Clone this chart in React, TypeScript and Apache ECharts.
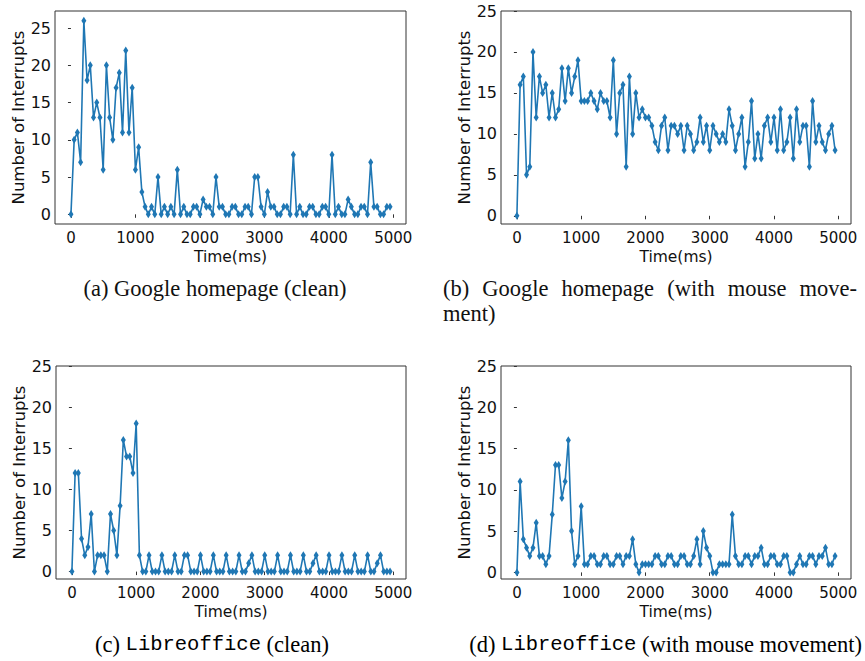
import React, { useEffect, useRef } from "react";
import * as echarts from "echarts";

// Interrupt counts sampled every 50 ms over five seconds.
const SAMPLE_STEP_MS = 50;

const GOOGLE_CLEAN = [
  0, 10, 11, 7, 26, 18, 20, 13, 15, 13, 6, 20, 13, 10, 17, 19, 11, 22, 11, 17,
  6, 9, 3, 1, 0, 1, 0, 5, 0, 1, 0, 1, 0, 6, 0, 1, 0, 0, 1, 1,
  0, 2, 1, 1, 0, 5, 1, 1, 0, 0, 1, 1, 0, 0, 1, 1, 0, 5, 5, 1,
  0, 3, 1, 1, 0, 0, 1, 1, 0, 8, 0, 1, 0, 0, 1, 1, 0, 0, 1, 1,
  0, 8, 0, 1, 0, 0, 2, 1, 0, 0, 1, 1, 0, 7, 1, 1, 0, 0, 1, 1,
];

const GOOGLE_MOUSE = [
  0, 16, 17, 5, 6, 20, 12, 17, 15, 16, 12, 15, 12, 13, 18, 14, 18, 15, 17, 19,
  14, 14, 14, 15, 14, 13, 15, 14, 14, 12, 19, 10, 15, 16, 6, 17, 10, 15, 12, 13,
  12, 12, 11, 9, 8, 11, 12, 8, 11, 11, 10, 11, 8, 11, 10, 8, 9, 12, 9, 11,
  8, 11, 10, 9, 10, 9, 13, 11, 8, 10, 12, 6, 9, 14, 7, 10, 7, 11, 12, 9,
  12, 8, 13, 8, 9, 12, 7, 13, 9, 11, 11, 6, 14, 9, 11, 9, 8, 10, 11, 8,
];

const LIBREOFFICE_CLEAN = [
  0, 12, 12, 4, 2, 3, 7, 0, 2, 2, 2, 0, 7, 5, 2, 8, 16, 14, 14, 12,
  18, 2, 0, 0, 2, 0, 0, 0, 2, 0, 0, 0, 2, 0, 0, 2, 2, 0, 0, 0,
  2, 0, 0, 0, 2, 0, 0, 0, 2, 0, 0, 0, 2, 0, 0, 1, 2, 0, 0, 0,
  2, 0, 0, 0, 2, 0, 0, 0, 2, 0, 0, 0, 2, 0, 0, 1, 2, 0, 0, 0,
  2, 0, 0, 0, 2, 0, 0, 0, 2, 0, 0, 0, 2, 0, 0, 1, 2, 0, 0, 0,
];

const LIBREOFFICE_MOUSE = [
  0, 11, 4, 3, 2, 3, 6, 2, 2, 1, 2, 7, 13, 13, 9, 11, 16, 5, 1, 2,
  8, 1, 1, 2, 2, 1, 1, 2, 2, 1, 1, 2, 2, 1, 2, 2, 4, 1, 0, 1,
  1, 1, 1, 2, 2, 1, 1, 2, 2, 1, 1, 2, 2, 1, 1, 2, 4, 1, 5, 3,
  2, 0, 0, 1, 1, 1, 1, 7, 2, 1, 1, 2, 2, 1, 2, 2, 3, 1, 1, 2,
  2, 1, 1, 2, 2, 0, 0, 1, 2, 1, 1, 2, 2, 1, 2, 2, 3, 1, 1, 2,
];

const X_TICKS = [0, 1000, 2000, 3000, 4000, 5000];
const Y_TICKS = [0, 5, 10, 15, 20, 25];

const X_LABEL = "Time(ms)";
const Y_LABEL = "Number of Interrupts";

const LINE_COLOR = "#1f77b4";
const AXIS_COLOR = "#333333";
const SANS = "DejaVu Sans";
const SERIF = "Liberation Serif";
const MONO = "Liberation Mono";
const SERIF_SIZE = 22.5;
const MONO_SIZE = 20.5;

const X_RANGE: [number, number] = [-247.5, 5197.5];

type Panel = {
  values: number[];
  yRange: [number, number];
  grid: { left: number; top: number; width: number; height: number };
};

const PANELS: Panel[] = [
  { values: GOOGLE_CLEAN, yRange: [-1.3, 27.3], grid: { left: 55, top: 11, width: 351, height: 213 } },
  { values: GOOGLE_MOUSE, yRange: [-1.0, 25], grid: { left: 501, top: 11, width: 350, height: 213 } },
  { values: LIBREOFFICE_CLEAN, yRange: [-0.9, 25], grid: { left: 56, top: 366, width: 350, height: 213 } },
  { values: LIBREOFFICE_MOUSE, yRange: [-0.8, 25], grid: { left: 501, top: 366, width: 350, height: 213 } },
];

const toPoints = (values: number[]) => values.map((v, i) => [i * SAMPLE_STEP_MS, v]);

const serifStyle = { fontFamily: SERIF, fontSize: SERIF_SIZE, fill: "#111" };

// Lays out one justified caption line between two x positions.
function justifiedLine(words: string[], left: number, right: number, y: number) {
  const ctx = document.createElement("canvas").getContext("2d");
  const font = `${SERIF_SIZE}px "${SERIF}"`;
  const widths = words.map((w) => {
    if (!ctx) return w.length * SERIF_SIZE * 0.45;
    ctx.font = font;
    return ctx.measureText(w).width;
  });
  const total = widths.reduce((a, b) => a + b, 0);
  const gap = (right - left - total) / (words.length - 1);
  let x = left;
  return words.map((w, i) => {
    const el = {
      type: "text",
      x,
      y,
      style: { ...serifStyle, text: w, align: "left", verticalAlign: "middle" },
    };
    x += widths[i] + gap;
    return el;
  });
}

function buildCaptions() {
  const rich = {
    s: { fontFamily: SERIF, fontSize: SERIF_SIZE, color: "#111" },
    m: { fontFamily: MONO, fontSize: MONO_SIZE, color: "#111" },
  };
  return [
    {
      type: "text",
      x: 215,
      y: 288,
      style: { ...serifStyle, text: "(a) Google homepage (clean)", align: "center", verticalAlign: "middle" },
    },
    ...justifiedLine(["(b)", "Google", "homepage", "(with", "mouse", "move-"], 443, 857, 288),
    {
      type: "text",
      x: 443,
      y: 313,
      style: { ...serifStyle, text: "ment)", align: "left", verticalAlign: "middle" },
    },
    {
      type: "text",
      x: 212,
      y: 644,
      style: {
        text: "{s|(c) }{m|Libreoffice}{s| (clean)}",
        rich,
        align: "center",
        verticalAlign: "middle",
      },
    },
    {
      type: "text",
      x: 862,
      y: 644,
      style: {
        text: "{s|(d) }{m|Libreoffice}{s| (with mouse movement)}",
        rich,
        align: "right",
        verticalAlign: "middle",
      },
    },
  ];
}

function buildOption() {
  return {
    animation: false,
    backgroundColor: "#ffffff",
    grid: PANELS.map((p) => ({
      ...p.grid,
      show: true,
      borderColor: AXIS_COLOR,
      borderWidth: 1,
      backgroundColor: "transparent",
      containLabel: false,
      outerBoundsMode: "none",
    })),
    xAxis: PANELS.map((_, i) => ({
      type: "value",
      gridIndex: i,
      min: X_RANGE[0],
      max: X_RANGE[1],
      axisLine: { show: false },
      splitLine: { show: false },
      axisTick: {
        show: true,
        inside: false,
        length: 3.5,
        customValues: X_TICKS,
        lineStyle: { color: AXIS_COLOR, width: 1 },
      },
      axisLabel: {
        customValues: X_TICKS,
        formatter: (v: number) => String(v),
        fontFamily: SANS,
        fontSize: 15,
        color: "#111",
        margin: 6,
      },
      name: X_LABEL,
      nameLocation: "middle",
      nameGap: 25,
      nameTextStyle: { fontFamily: SANS, fontSize: 15.5, color: "#111" },
    })),
    yAxis: PANELS.map((p, i) => ({
      type: "value",
      gridIndex: i,
      min: p.yRange[0],
      max: p.yRange[1],
      axisLine: { show: false },
      splitLine: { show: false },
      axisTick: {
        show: true,
        inside: false,
        length: 3,
        customValues: Y_TICKS,
        lineStyle: { color: AXIS_COLOR, width: 1 },
      },
      axisLabel: {
        customValues: Y_TICKS,
        formatter: (v: number) => String(v),
        fontFamily: SANS,
        fontSize: 16,
        color: "#111",
        margin: 4,
      },
      name: Y_LABEL,
      nameLocation: "middle",
      nameRotate: 90,
      nameGap: 28,
      nameTextStyle: { fontFamily: SANS, fontSize: 16.5, color: "#111" },
    })),
    series: PANELS.map((p, i) => ({
      type: "line",
      xAxisIndex: i,
      yAxisIndex: i,
      data: toPoints(p.values),
      symbol: "diamond",
      symbolSize: [5, 8],
      showSymbol: true,
      itemStyle: { color: LINE_COLOR },
      lineStyle: { color: LINE_COLOR, width: 1.6 },
      emphasis: { disabled: true },
    })),
    graphic: buildCaptions(),
  };
}

export default function App() {
  const ref = useRef<HTMLDivElement>(null);

  useEffect(() => {
    document.body.style.margin = "0";
    if (!ref.current) return;
    const chart = echarts.init(ref.current, undefined, { renderer: "svg" });
    chart.setOption(buildOption() as any);
    return () => chart.dispose();
  }, []);

  return <div ref={ref} style={{ width: 865, height: 661 }} />;
}
